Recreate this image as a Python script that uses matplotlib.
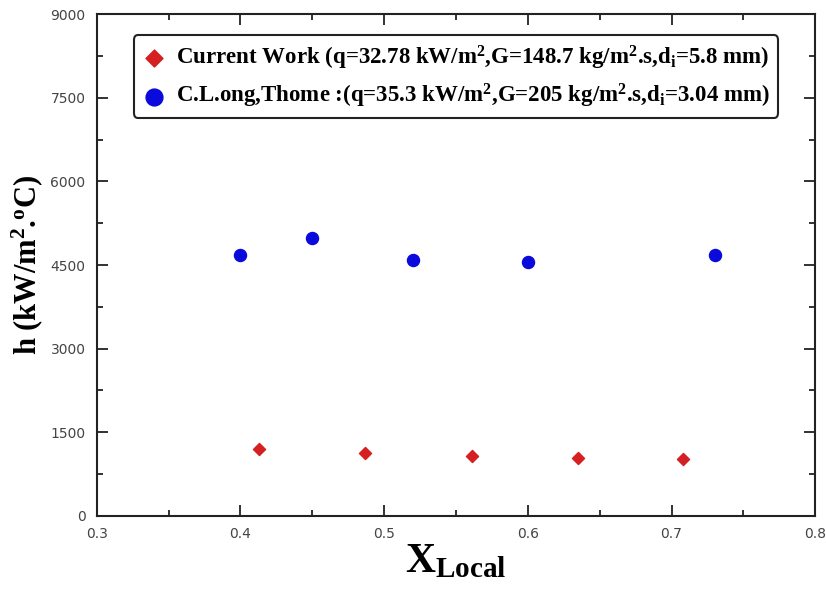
import matplotlib.pyplot as plt
from matplotlib.ticker import MultipleLocator

# data
x_current = [0.413, 0.487, 0.561, 0.635, 0.708]
h_current = [1200, 1130, 1080, 1040, 1020]
x_thome = [0.40, 0.45, 0.52, 0.60, 0.73]
h_thome = [4680, 4990, 4590, 4560, 4680]

lab_current = r'Current Work (q=32.78 kW/m$^{2}$,G=148.7 kg/m$^{2}$.s,d$_{i}$=5.8 mm)'
lab_thome = r'C.L.ong,Thome :(q=35.3 kW/m$^{2}$,G=205 kg/m$^{2}$.s,d$_{i}$=3.04 mm)'

plt.rcParams['mathtext.fontset'] = 'custom'
plt.rcParams['mathtext.rm'] = 'Liberation Serif:bold'
plt.rcParams['mathtext.it'] = 'Liberation Serif:bold'

fig = plt.figure(figsize=(8.26, 5.93), dpi=100)
ax = fig.add_axes([0.117, 0.130, 0.870, 0.846])

ax.scatter(x_current, h_current, marker='D', s=38, color='#d42020', label=lab_current, zorder=3)
ax.scatter(x_thome, h_thome, marker='o', s=75, color='#0a0adc', label=lab_thome, zorder=3)

ax.set_xlim(0.3, 0.8)
ax.set_ylim(0, 9000)
ax.xaxis.set_major_locator(MultipleLocator(0.1))
ax.xaxis.set_minor_locator(MultipleLocator(0.05))
ax.yaxis.set_major_locator(MultipleLocator(1500))
ax.yaxis.set_minor_locator(MultipleLocator(750))
ax.tick_params(which='both', direction='in', top=True, right=True, width=1.3, color='#222222')
ax.tick_params(which='major', length=8, labelsize=10, labelcolor='#444444', pad=8)
ax.tick_params(which='minor', length=4)
for sp in ax.spines.values():
    sp.set_linewidth(1.5)
    sp.set_color('#222222')

ax.set_xlabel(r'X$_{\mathregular{Local}}$', family='Liberation Serif', fontweight='bold', fontsize=30, labelpad=2)
ax.set_ylabel(r'h (kW/m$^{2}$.$^{o}$C)', family='Liberation Serif', fontweight='bold', fontsize=22, labelpad=4)

leg = ax.legend(loc='upper center', bbox_to_anchor=(0.500, 0.958),
                prop={'family': 'Liberation Serif', 'weight': 'bold', 'size': 16.5},
                frameon=True, fancybox=True, edgecolor='#222222', framealpha=1,
                handletextpad=0.4, borderpad=0.35, labelspacing=0.45, markerscale=1.4,
                handlelength=1.1, borderaxespad=0)
leg.get_frame().set_linewidth(1.5)

fig.savefig('out.png', dpi=100)
